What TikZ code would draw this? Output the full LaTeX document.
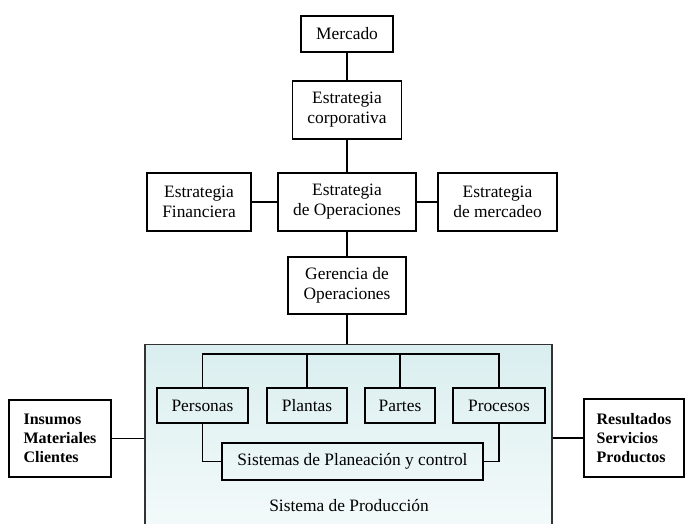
\documentclass[tikz,border=0pt]{standalone}
\usepackage{fontspec}
\setmainfont{Liberation Serif}
\usepackage{tikz}
\usetikzlibrary{positioning,calc,backgrounds}
\usepackage{xcolor}
\definecolor{prodtop}{RGB}{218, 238, 239}
\definecolor{prodbot}{RGB}{246, 251, 251}

\begin{document}
\begin{tikzpicture}[
    x=1pt, y=-1pt,
    caja/.style={draw, line width=1.1pt, align=center, inner sep=0pt,
        font=\fontsize{17.4}{20}\selectfont},
    cajagruesa/.style={caja, line width=1.7pt},
    extremo/.style={draw, line width=1.7pt, align=left, inner sep=0pt,
        font=\fontsize{16}{19}\selectfont\bfseries},
    enlace/.style={line width=1.1pt}
]
    \useasboundingbox (0,0) rectangle (685,524);
    \clip (0,0) rectangle (685,524);

    % estrategia
    \node[caja, minimum width=92pt, minimum height=36pt] (merc) at (347,34) {Mercado};
    \node[caja, minimum width=109pt, minimum height=58pt] (corp) at (347,110) {Estrategia\\corporativa};
    \node[caja, minimum width=138pt, minimum height=58pt] (ops) at (347,202) {Estrategia\\de Operaciones};
    \node[caja, minimum width=104pt, minimum height=58pt] (fin) at (199,202) {Estrategia\\Financiera};
    \node[caja, minimum width=119pt, minimum height=58pt] (mkt) at (497.5,202) {Estrategia\\de mercadeo};
    \node[cajagruesa, minimum width=118pt, minimum height=57pt] (ger) at (347,285.5) {Gerencia de\\Operaciones};

    \draw[enlace] (merc) -- (corp);
    \draw[enlace] (corp) -- (ops);
    \draw[enlace] (fin) -- (ops);
    \draw[enlace] (ops) -- (mkt);
    \draw[enlace] (ops) -- (ger);

    % sistema de produccion
    \node[draw=black!80, line width=1.2pt, top color=prodtop, bottom color=prodbot,
        minimum width=407pt, minimum height=200pt, inner sep=0pt, anchor=north]
        (prod) at (348.5,344) {};
    \node[font=\fontsize{17.4}{20}\selectfont] (prodlbl) at (349,506) {Sistema de Producción};

    \draw[enlace] (ger.south) -- (ger.south |- prod.north);

    \node[caja, minimum width=91pt, minimum height=35pt] (pers) at (202.5,405.5) {Personas};
    \node[caja, minimum width=80pt, minimum height=35pt] (plan) at (307,405.5) {Plantas};
    \node[caja, minimum width=70pt, minimum height=35pt] (part) at (400,405.5) {Partes};
    \node[caja, minimum width=92pt, minimum height=35pt] (proc) at (499,405.5) {Procesos};
    \node[caja, minimum width=261pt, minimum height=37pt] (sis) at (352.5,461.5) {Sistemas de Planeación y control};

    \coordinate (bus) at (0,354);
    \draw[enlace] (pers.north) -- (pers.north |- bus) -- (proc.north |- bus) -- (proc.north);
    \draw[enlace] (plan.north) -- (plan.north |- bus);
    \draw[enlace] (part.north) -- (part.north |- bus);
    \draw[enlace] (pers.south) |- (sis.west);
    \draw[enlace] (proc.south) |- (sis.east);

    % entradas y salidas
    \node[extremo, minimum width=102pt, minimum height=77pt] (ins) at (60,438.5) {Insumos\\Materiales\\Clientes};
    \node[extremo, minimum width=100pt, minimum height=78pt] (res) at (634,438) {Resultados\\Servicios\\Productos};

    \draw[enlace, line width=1.4pt] (ins.east) -- (ins.east -| prod.west);
    \draw[enlace, line width=1.4pt] (prod.east |- res.west) -- (res.west);
\end{tikzpicture}
\end{document}
